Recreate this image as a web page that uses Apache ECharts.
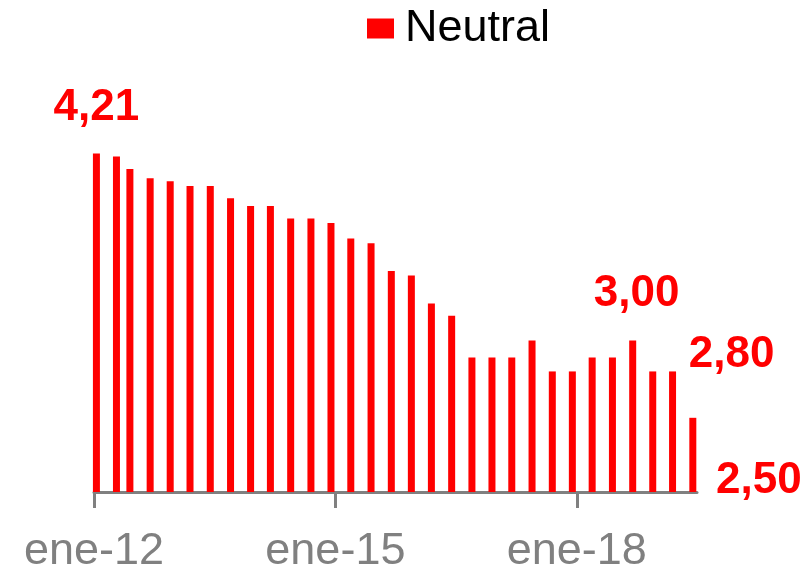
<!DOCTYPE html>
<html><head><meta charset="utf-8">
<script src="https://cdn.jsdelivr.net/npm/echarts@6/dist/echarts.min.js"></script>
<style>html,body{margin:0;padding:0;background:#fff}#c{width:812px;height:571px}</style>
</head><body><div id="c"></div>
<script>
// ---- data ----
const seriesName = 'Neutral';
const dates = [
  '2012-01-12','2012-04-12','2012-06-12','2012-09-12','2012-12-12',
  '2013-03-12','2013-06-12','2013-09-12','2013-12-12',
  '2014-03-12','2014-06-12','2014-09-12','2014-12-12',
  '2015-03-12','2015-06-12','2015-09-12','2015-12-12',
  '2016-03-12','2016-06-12','2016-09-12','2016-12-12',
  '2017-03-12','2017-06-12','2017-09-12','2017-12-12',
  '2018-03-12','2018-06-12','2018-09-12','2018-12-12',
  '2019-03-12','2019-06-12'
];
const values = [
  4.21, 4.19, 4.11, 4.05, 4.03,
  4.00, 4.00, 3.92, 3.87,
  3.87, 3.79, 3.79, 3.76,
  3.66, 3.63, 3.45, 3.42,
  3.24, 3.16, 2.89, 2.89,
  2.89, 3.00, 2.80, 2.80,
  2.89, 2.89, 3.00, 2.80,
  2.80, 2.50
];
const tickDates = ['2012-01-01', '2015-01-01', '2018-01-01'];
const axisStart = '2012-01-01';
const axisEnd = '2019-07-01';
const monthNames = ['ene','feb','mar','abr','may','jun','jul','ago','sep','oct','nov','dic'];
const labelledIdx = [0, 27, 29, 30];

// ---- helpers / styles ----
function ts(s){ const p = s.split('-').map(Number); return Date.UTC(p[0], p[1]-1, p[2]); }
const FONT = '"Liberation Sans", Arial, sans-serif';
const labelOffsets = { 0: [0, -19], 27: [4, -20], 29: [59, 10], 30: [66, 90] };

const seriesData = values.map((v, i) => {
  const item = { value: [ts(dates[i]), v] };
  if (labelledIdx.indexOf(i) >= 0) {
    item.label = { show: true, offset: labelOffsets[i] };
  }
  return item;
});

const chart = echarts.init(document.getElementById('c'), null, { renderer: 'canvas' });
chart.setOption({
  animation: false,
  backgroundColor: '#ffffff',
  legend: {
    data: [seriesName],
    left: 367, top: 6, padding: 0,
    icon: 'rect', itemWidth: 27, itemHeight: 20,
    textStyle: { fontSize: 45, color: '#000000', fontFamily: FONT, padding: [0, 0, 0, 6] }
  },
  grid: { left: 94, right: 115, top: 100, bottom: 79, containLabel: false, outerBoundsMode: 'none' },
  xAxis: {
    type: 'value',
    min: ts(axisStart), max: ts(axisEnd),
    axisLine: { show: true, lineStyle: { color: '#808080', width: 3 } },
    axisTick: { show: true, length: 16, lineStyle: { color: '#808080', width: 3 },
      customValues: tickDates.map(ts) },
    axisLabel: {
      customValues: tickDates.map(ts),
      margin: 37, fontSize: 45, color: '#808080', fontFamily: FONT,
      formatter: function (v) {
        const d = new Date(v);
        return monthNames[d.getUTCMonth()] + '-' + String(d.getUTCFullYear()).slice(2);
      }
    },
    splitLine: { show: false }
  },
  yAxis: {
    type: 'value', min: 2.02, max: 4.556, show: false,
    splitLine: { show: false }
  },
  series: [{
    name: seriesName,
    type: 'bar',
    barWidth: 7,
    itemStyle: { color: '#ff0000' },
    label: {
      show: false, position: 'top', distance: 5,
      fontSize: 44, fontWeight: 'bold', color: '#ff0000', fontFamily: FONT,
      formatter: p => p.value[1].toFixed(2).replace('.', ',')
    },
    data: seriesData
  }]
});
</script></body></html>
